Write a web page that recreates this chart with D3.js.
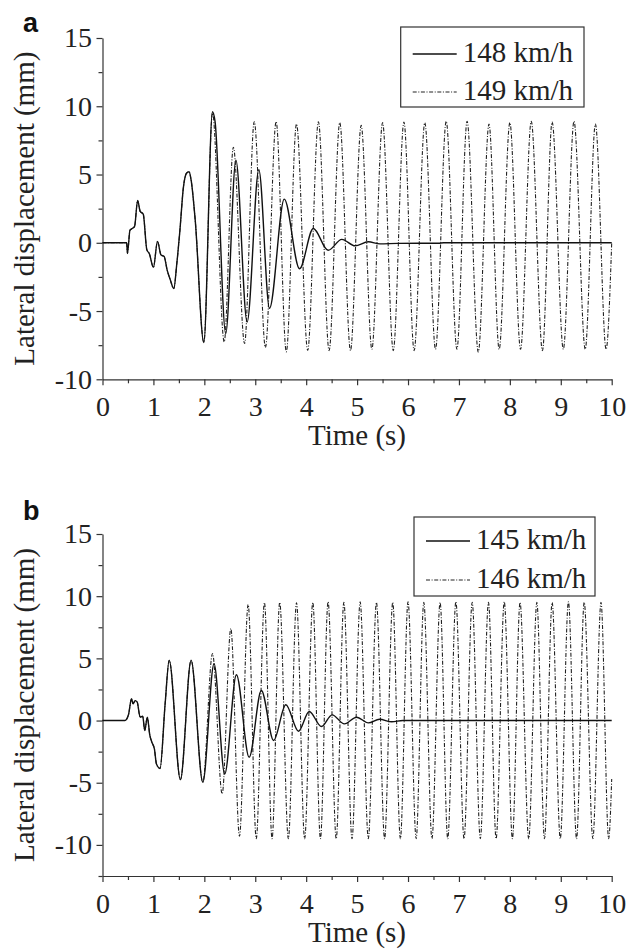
<!DOCTYPE html>
<html>
<head>
<meta charset="utf-8">
<script src="https://cdn.jsdelivr.net/npm/d3@7"></script>
<style>
  body { margin: 0; background: #fff; }
  svg { display: block; }
</style>
</head>
<body>
<div id="chart"></div>
<script>
// ---- data (time in s, lateral displacement in mm) ----
// panel a, 148 km/h
var timeA148 = [0, 0.475, 0.49, 0.54, 0.59, 0.63, 0.69, 0.74, 0.80, 0.87, 0.92, 1.00, 1.08, 1.15, 1.21, 1.27,
    1.33, 1.40, 1.46, 1.52, 1.59, 1.65, 1.70, 1.74, 1.82, 1.99, 2.16, 2.21, 2.42, 2.62, 2.84, 3.07, 3.28,
    3.57, 3.87, 4.14, 4.43, 4.70, 4.96, 5.22, 5.45, 5.80, 6.60, 6.70, 10];
var dispA148 = [0, 0, -0.78, 0.93, 1.06, 1.2, 3.1, 2.3, 2.1, -0.5, -0.8, -1.8, 0.1, -0.9, -1.0, -2.0,
    -2.7, -3.35, -1.5, 0.9, 4.1, 5.1, 5.2, 4.6, 1.7, -7.3, 9.6, 8.9, -6.65, 6.05, -5.8, 5.35, -4.8,
    3.2, -1.9, 1.05, -0.55, 0.25, -0.22, 0.07, -0.08, -0.04, -0.03, 0, 0];

// panel a, 149 km/h
var timeA149 = [0, 0.475, 0.49, 0.54, 0.59, 0.63, 0.69, 0.74, 0.80, 0.87, 0.92, 1.00, 1.08, 1.15, 1.21, 1.27,
    1.33, 1.40, 1.46, 1.52, 1.59, 1.65, 1.70, 1.74, 1.82, 1.99, 2.16, 2.39, 2.57, 2.79, 2.98, 3.20, 3.41,
    3.61, 3.81, 4.03, 4.24, 4.45, 4.66, 4.87, 5.08, 5.29, 5.50, 5.71, 5.92, 6.12, 6.33, 6.54, 6.75, 6.96,
    7.16, 7.38, 7.59, 7.79, 8.00, 8.21, 8.42, 8.64, 8.83, 9.05, 9.26, 9.48, 9.68, 9.89, 10];
var dispA149 = [0, 0, -0.78, 0.93, 1.06, 1.2, 3.1, 2.3, 2.1, -0.5, -0.8, -1.8, 0.1, -0.9, -1.0, -2.0,
    -2.7, -3.35, -1.5, 0.9, 4.1, 5.1, 5.2, 4.6, 1.7, -7.3, 9.5, -7.26, 7.0, -7.38, 8.87, -7.67, 8.87,
    -7.99, 8.7, -7.87, 8.87, -7.9, 8.8, -7.9, 8.6, -7.8, 8.8, -7.9, 8.85, -7.9, 8.8, -7.8, 8.9, -7.8,
    8.9, -8.0, 8.7, -7.8, 8.8, -7.8, 8.9, -7.9, 8.85, -7.8, 8.9, -7.8, 8.7, -7.8, 0];

// panel b, 145 km/h
var timeB145 = [0, 0.44, 0.51, 0.57, 0.60, 0.64, 0.68, 0.74, 0.79, 0.83, 0.88, 0.93, 0.97, 1.02, 1.06, 1.13,
    1.23, 1.31, 1.53, 1.74, 1.97, 2.19, 2.40, 2.63, 2.88, 3.12, 3.36, 3.60, 3.85, 4.06, 4.30, 4.51, 4.75,
    4.99, 5.22, 5.44, 5.68, 5.90, 10];
var dispB145 = [0, 0, 0.46, 1.75, 1.35, 1.6, 1.5, 0.27, 0.35, -0.8, 0.27, -1.2, -1.75, -2.3, -3.5, -3.85,
    1.35, 4.84, -4.75, 4.84, -4.95, 4.57, -4.3, 3.68, -2.95, 2.42, -1.6, 1.27, -0.86, 0.73, -0.48, 0.46, -0.27,
    0.27, -0.19, 0.1, -0.1, 0, 0];

// panel b, 146 km/h
var timeB146 = [0, 0.44, 0.51, 0.57, 0.60, 0.64, 0.68, 0.74, 0.79, 0.83, 0.88, 0.93, 0.97, 1.02, 1.06, 1.13,
    1.23, 1.31, 1.53, 1.74, 1.97, 2.16, 2.35, 2.52, 2.69, 2.86, 3.02, 3.18, 3.33, 3.48, 3.65, 3.81, 3.97,
    4.13, 4.28, 4.43, 4.59, 4.74, 4.90, 5.06, 5.22, 5.38, 5.54, 5.70, 5.85, 6.00, 6.16, 6.31, 6.47, 6.63,
    6.78, 6.94, 7.10, 7.26, 7.42, 7.58, 7.73, 7.89, 8.05, 8.20, 8.37, 8.53, 8.68, 8.83, 8.99, 9.15, 9.31,
    9.46, 9.63, 9.79, 9.94, 10];
var dispB146 = [0, 0, 0.46, 1.75, 1.35, 1.6, 1.5, 0.27, 0.35, -0.8, 0.27, -1.2, -1.75, -2.3, -3.5, -3.85,
    1.35, 4.84, -4.75, 4.84, -4.95, 5.38, -5.9, 7.4, -9.3, 9.33, -9.5, 9.49, -9.5, 9.5, -9.5, 9.47, -9.5,
    9.5, -9.5, 9.55, -9.5, 9.5, -9.5, 9.55, -9.5, 9.5, -9.5, 9.5, -9.5, 9.55, -9.5, 9.5, -9.5, 9.5,
    -9.5, 9.55, -9.5, 9.5, -9.5, 9.5, -9.5, 9.55, -9.5, 9.5, -9.5, 9.5, -9.5, 9.5, -9.5, 9.55, -9.5,
    9.5, -9.5, 9.5, -9.5, -4.7];

// ticks
var xMajor = [0, 1, 2, 3, 4, 5, 6, 7, 8, 9, 10];
var xMinor = [0.5, 1.5, 2.5, 3.5, 4.5, 5.5, 6.5, 7.5, 8.5, 9.5];
var yMajor = [-10, -5, 0, 5, 10, 15];
var yMinorA = [-7.5, -2.5, 2.5, 7.5, 12.5];
var yMinorB = [-12.5, -7.5, -2.5, 2.5, 7.5, 12.5];

var SERIF = "'Liberation Serif', 'Times New Roman', Times, serif";

var svg = d3.select("#chart").append("svg")
    .attr("width", 628)
    .attr("height", 952);

function styleAxis(sel) {
    sel.attr("font-family", null).attr("font-size", null);
    sel.selectAll("path, line").attr("stroke", "#333").attr("stroke-width", 1.2);
    sel.selectAll("text")
        .style("font-family", SERIF)
        .style("font-size", "28px")
        .attr("fill", "#222");
}

function drawPanel(p) {
    var x = d3.scaleLinear().domain([0, 10]).range([102.5, 611.7]);
    var y = d3.scaleLinear().domain([p.yMin, 15]).range([p.bottom, p.top]);
    var g = svg.append("g");

    // minor ticks first, then major ticks with labels
    g.append("g")
        .attr("transform", "translate(0," + p.bottom + ")")
        .call(d3.axisBottom(x).tickValues(xMinor).tickSize(4).tickFormat(""))
        .call(styleAxis)
        .select(".domain").remove();
    g.append("g")
        .attr("transform", "translate(102.5,0)")
        .call(d3.axisLeft(y).tickValues(p.yMinor).tickSize(4).tickFormat(""))
        .call(styleAxis)
        .select(".domain").remove();

    g.append("g")
        .attr("transform", "translate(0," + p.bottom + ")")
        .call(d3.axisBottom(x).tickValues(xMajor).tickSize(6).tickSizeOuter(0).tickPadding(11)
            .tickFormat(function (d) { return String(d); }))
        .call(styleAxis);
    g.append("g")
        .attr("transform", "translate(102.5,0)")
        .call(d3.axisLeft(y).tickValues(yMajor).tickSize(6).tickSizeOuter(0).tickPadding(4.5)
            .tickFormat(function (d) { return String(d); }))
        .call(styleAxis);

    // axis titles
    g.append("text")
        .attr("x", 357).attr("y", p.bottom + 66)
        .attr("text-anchor", "middle")
        .style("font-family", SERIF)
        .style("font-size", "29px").style("fill", "#222")
        .text("Time (s)");
    g.append("text")
        .attr("transform", "translate(34," + ((p.top + p.bottom) / 2) + ") rotate(-90)")
        .attr("text-anchor", "middle")
        .style("font-family", SERIF)
        .style("font-size", "29px").style("fill", "#222")
        .text("Lateral displacement (mm)");

    // panel letter
    g.append("text")
        .attr("x", 23).attr("y", p.letterY)
        .style("font-family", "'Liberation Sans', Arial, sans-serif")
        .style("font-size", "27px").style("font-weight", "bold").style("fill", "#111")
        .text(p.letter);

    // curves: dash-dot underneath, solid on top
    var line = d3.line()
        .x(function (d) { return x(d[0]); })
        .y(function (d) { return y(d[1]); })
        .curve(d3.curveMonotoneX);

    g.append("path")
        .datum(d3.zip(p.t2, p.v2))
        .attr("d", line)
        .attr("fill", "none")
        .attr("stroke", "#222")
        .attr("stroke-width", 1.1)
        .attr("stroke-dasharray", "4,1.6,1,1.6");
    g.append("path")
        .datum(d3.zip(p.t1, p.v1))
        .attr("d", line)
        .attr("fill", "none")
        .attr("stroke", "#111")
        .attr("stroke-width", 1.4);

    // legend
    var lg = g.append("g");
    lg.append("rect")
        .attr("x", p.legX).attr("y", p.legY)
        .attr("width", p.legW).attr("height", p.legH)
        .attr("fill", "#fff").attr("stroke", "#333").attr("stroke-width", 1.2);
    [0, 1].forEach(function (i) {
        var base = p.legY + p.rowBase[i];
        lg.append("line")
            .attr("x1", p.legX + 12).attr("x2", p.legX + 56)
            .attr("y1", base - 8).attr("y2", base - 8)
            .attr("stroke", i === 0 ? "#111" : "#222")
            .attr("stroke-width", i === 0 ? 1.3 : 1.1)
            .attr("stroke-dasharray", i === 0 ? null : "4,1.6,1,1.6");
        lg.append("text")
            .attr("x", p.legX + 62).attr("y", base)
            .style("font-family", SERIF)
            .style("font-size", "29px").style("fill", "#222")
            .text(p.names[i]);
    });
}

drawPanel({
    letter: "a", letterY: 32,
    top: 38, bottom: 379.3, yMin: -10, yMinor: yMinorA,
    t1: timeA148, v1: dispA148, t2: timeA149, v2: dispA149,
    names: ["148 km/h", "149 km/h"],
    legX: 400.7, legY: 27, legW: 183.3, legH: 80, rowBase: [35, 73]
});

drawPanel({
    letter: "b", letterY: 520,
    top: 534, bottom: 876, yMin: -12.5, yMinor: yMinorB,
    t1: timeB145, v1: dispB145, t2: timeB146, v2: dispB146,
    names: ["145 km/h", "146 km/h"],
    legX: 414, legY: 517, legW: 181, legH: 79, rowBase: [32, 71]
});
</script>
</body>
</html>
